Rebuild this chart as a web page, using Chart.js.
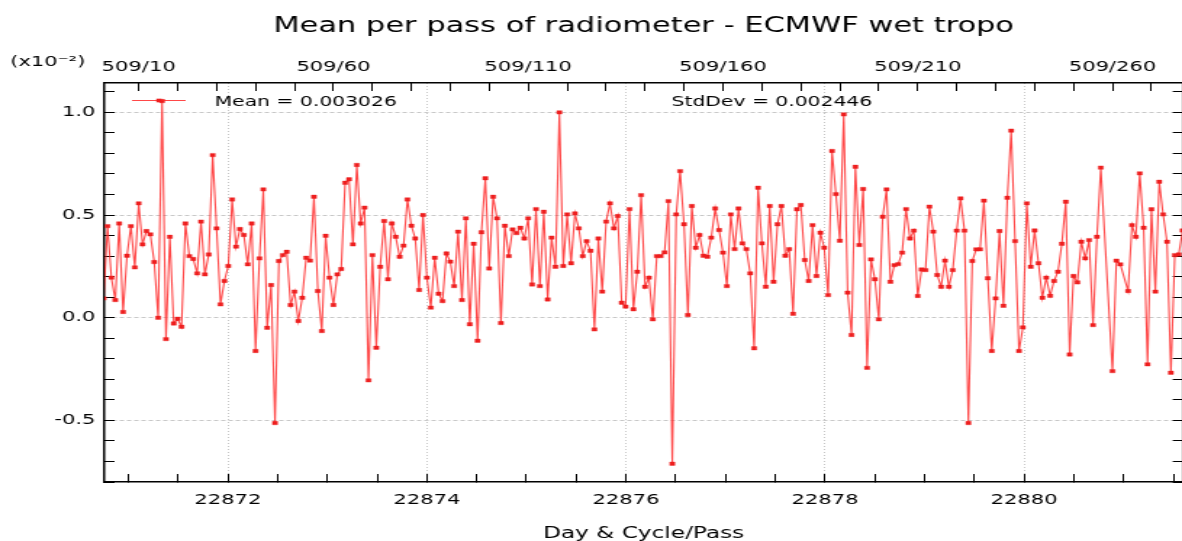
<!DOCTYPE html>
<html>
<head>
<meta charset="utf-8">
<script src="https://cdn.jsdelivr.net/npm/chart.js@4.4.0/dist/chart.umd.min.js"></script>
<style>
  html, body { margin: 0; padding: 0; background: #fff; overflow: hidden; }
  /* the original plot is a stretched picture, so draw narrow and stretch it */
  #wrap { position: absolute; left: 0; top: 0; width: 820px; height: 541px;
          transform-origin: 0 0; transform: scaleX(1.4503); }
</style>
</head>
<body>
<div id="wrap"><canvas id="myChart" width="820" height="541"></canvas></div>
<script>
// Cycle shown on the top axis, and the passes that have no value
let cycle = 509;
let missingPasses = [258, 259, 263];
let passes = [];
for (let p = 1; p <= 278; p++) {
  if (!missingPasses.includes(p)) passes.push(p);
}
// Mean per pass (x10^-2), one per pass above
let meanValues = [
  0.094, 0.446, 0.195, 0.086, 0.459, 0.028, 0.302, 0.446, 0.245, 0.557, 0.357, 0.422, 0.406, 0.271, 0.0, 1.055, -0.104, 0.394, -0.028, -0.005, -0.044, 0.459, 0.300, 0.286, 0.216,
  0.468, 0.211, 0.308, 0.792, 0.435, 0.065, 0.179, 0.252, 0.576, 0.346, 0.432, 0.403, 0.260, 0.459, -0.162, 0.289, 0.625, -0.049, 0.159, -0.513, 0.276, 0.305, 0.321, 0.062, 0.127,
  -0.016, 0.097, 0.292, 0.278, 0.589, 0.130, -0.065, 0.399, 0.195, 0.062, 0.211, 0.237, 0.657, 0.674, 0.357, 0.744, 0.459, 0.536, -0.305, 0.305, -0.146, 0.248, 0.471, 0.187, 0.459,
  0.394, 0.297, 0.351, 0.576, 0.448, 0.386, 0.135, 0.500, 0.195, 0.049, 0.292, 0.117, 0.081, 0.313, 0.273, 0.154, 0.419, 0.086, 0.484, -0.032, 0.360, -0.112, 0.416, 0.679, 0.240,
  0.589, 0.484, -0.026, 0.448, 0.300, 0.430, 0.412, 0.438, 0.386, 0.484, 0.162, 0.529, 0.154, 0.516, 0.089, 0.390, 0.248, 1.000, 0.252, 0.503, 0.265, 0.508, 0.435, 0.300, 0.373,
  0.326, -0.057, 0.386, 0.127, 0.468, 0.557, 0.435, 0.495, 0.073, 0.054, 0.529, 0.041, 0.224, 0.597, 0.151, 0.195, -0.008, 0.300, 0.300, 0.318, 0.568, -0.711, 0.503, 0.714, 0.455,
  0.013, 0.544, 0.341, 0.403, 0.302, 0.297, 0.390, 0.532, 0.427, 0.317, 0.154, 0.503, 0.334, 0.532, 0.362, 0.334, 0.216, -0.149, 0.633, 0.362, 0.151, 0.544, 0.175, 0.455, 0.544,
  0.302, 0.334, 0.019, 0.528, 0.549, 0.281, 0.179, 0.451, 0.203, 0.414, 0.341, 0.110, 0.812, 0.602, 0.375, 0.990, 0.122, -0.084, 0.735, 0.354, 0.627, -0.244, 0.284, 0.187, -0.008,
  0.492, 0.625, 0.175, 0.256, 0.261, 0.317, 0.529, 0.386, 0.424, 0.106, 0.235, 0.232, 0.541, 0.419, 0.208, 0.151, 0.278, 0.151, 0.232, 0.424, 0.581, 0.424, -0.513, 0.276, 0.333,
  0.333, 0.570, 0.192, -0.162, 0.094, 0.422, 0.058, 0.584, 0.911, 0.373, -0.162, -0.047, 0.557, 0.248, 0.425, 0.265, 0.097, 0.195, 0.107, 0.179, 0.224, 0.360, 0.565, -0.179, 0.203,
  0.172, 0.370, 0.289, 0.378, -0.036, 0.394, 0.731, -0.260, 0.278, 0.260, 0.130, 0.451, 0.394, 0.703, 0.438, -0.227, 0.528, 0.127, 0.662, 0.503, 0.370, -0.268, 0.305, 0.308, 0.425
];
// Labelled ticks
let dayTicks = [22872, 22874, 22876, 22878, 22880];
let passTicks = [10, 60, 110, 160, 210, 260];
let yTicks = [-0.5, 0.0, 0.5, 1.0];
let meanText = 'Mean = 0.003026';
let stdText = 'StdDev = 0.002446';

// Minor tick positions
let dayMinor = [];
for (let i = 0; i <= 21; i++) dayMinor.push(22871 + i * 0.5);
let passMinor = [];
for (let p = 10; p <= 270; p += 10) passMinor.push(p);
let yMinor = [];
for (let i = -8; i <= 11; i++) yMinor.push(i / 10);

let lineColor = 'rgba(255,40,40,0.85)';
let pointColor = '#ee1f1f';
let gridColor = '#c8c8c8';

Chart.defaults.font.family = '"DejaVu Sans", sans-serif';
Chart.defaults.color = '#000';

let overlayText = {
  id: 'overlayText',
  afterDatasetsDraw(chart) {
    let ctx = chart.ctx;
    ctx.save();
    let ly = 100.5;
    ctx.strokeStyle = lineColor;
    ctx.lineWidth = 1.1;
    ctx.beginPath();
    ctx.moveTo(91, ly);
    ctx.lineTo(128, ly);
    ctx.stroke();
    ctx.fillStyle = pointColor;
    ctx.fillRect(107.8, ly - 1.8, 3.6, 3.6);
    ctx.fillStyle = '#000';
    ctx.font = '14px "DejaVu Sans"';
    ctx.textAlign = 'left';
    ctx.textBaseline = 'alphabetic';
    ctx.fillText(meanText, 148, 105.5);
    ctx.fillText(stdText, 463, 105.5);
    ctx.font = '14.5px "DejaVu Sans"';
    ctx.fillText('(x10\u207B\u00B2)', 7, 66);
    ctx.restore();
  }
};

function renderChart() {
  let ctx = document.getElementById('myChart');
  new Chart(ctx, {
    type: 'line',
    data: {
      datasets: [{
        data: passes.map((p, i) => ({ x: p, y: meanValues[i] })),
        xAxisID: 'x2',
        yAxisID: 'y',
        borderColor: lineColor,
        borderWidth: 1.1,
        pointStyle: 'rect',
        pointRadius: 2.4,
        pointBorderWidth: 0.4,
        pointBorderColor: pointColor,
        pointBackgroundColor: pointColor,
        tension: 0,
        fill: false
      }]
    },
    options: {
      responsive: false,
      animation: false,
      devicePixelRatio: 1,
      layout: { padding: { left: 0, right: 3.5, top: 0, bottom: 0 } },
      plugins: {
        legend: { display: false },
        tooltip: { enabled: false },
        title: {
          display: true,
          text: 'Mean per pass of radiometer - ECMWF wet tropo',
          fullSize: false,
          color: '#000',
          font: { size: 21, weight: 'normal' },
          padding: { top: 14, bottom: 0 }
        }
      },
      scales: {
        x: {
          type: 'linear',
          position: 'bottom',
          min: 22870.7599,
          max: 22881.5953,
          afterBuildTicks: axis => { axis.ticks = dayMinor.map(v => ({ value: v })); },
          afterFit: axis => { axis.height = 59; axis.paddingLeft = 0; axis.paddingRight = 0; },
          ticks: {
            autoSkip: false, maxRotation: 0, minRotation: 0, padding: 17.4,
            font: { size: 14.5 },
            callback: v => dayTicks.includes(v) ? String(v) : ''
          },
          grid: {
            color: c => c.tick && dayTicks.includes(c.tick.value) ? gridColor : 'rgba(0,0,0,0)',
            tickColor: '#000', tickLength: -8, tickWidth: 1
          },
          border: { color: '#000', width: 1.5, dash: [1, 2] },
          title: {
            display: true, text: 'Day & Cycle/Pass', color: '#000',
            font: { size: 16 }, padding: { top: 0, bottom: -2 }
          }
        },
        x2: {
          type: 'linear',
          position: 'top',
          min: 1.21,
          max: 278.07,
          afterBuildTicks: axis => { axis.ticks = passMinor.map(v => ({ value: v })); },
          afterFit: axis => { axis.height = 43.8; axis.paddingLeft = 0; axis.paddingRight = 0; },
          ticks: {
            autoSkip: false, maxRotation: 0, minRotation: 0, padding: 15,
            font: { size: 14.5 },
            callback: v => passTicks.includes(v) ? cycle + '/' + v : ''
          },
          grid: {
            drawOnChartArea: false, color: 'rgba(0,0,0,0)',
            tickColor: '#000', tickLength: -8, tickWidth: 1
          },
          border: { color: '#000', width: 1.5 }
        },
        y: {
          position: 'left',
          min: -0.80,
          max: 1.143,
          afterBuildTicks: axis => { axis.ticks = yMinor.map(v => ({ value: v })); },
          afterFit: axis => { axis.width = 72; axis.paddingTop = 0; axis.paddingBottom = 0; },
          ticks: {
            autoSkip: false, padding: 13.2,
            font: { size: 14.5 },
            callback: v => yTicks.includes(v) ? v.toFixed(1) : ''
          },
          grid: {
            color: c => c.tick && yTicks.includes(c.tick.value) ? gridColor : 'rgba(0,0,0,0)',
            tickColor: '#000', tickLength: -7, tickWidth: 1
          },
          border: { color: '#000', width: 1.5, dash: [3, 2] }
        },
        y2: {
          position: 'right',
          min: -0.80,
          max: 1.143,
          afterBuildTicks: axis => { axis.ticks = yMinor.map(v => ({ value: v })); },
          afterFit: axis => { axis.width = 0; axis.paddingTop = 0; axis.paddingBottom = 0; },
          ticks: { display: false },
          grid: {
            drawOnChartArea: false, color: 'rgba(0,0,0,0)',
            tickColor: '#000', tickLength: -7, tickWidth: 1
          },
          border: { color: '#000', width: 1.5 }
        }
      }
    },
    plugins: [overlayText]
  });
}

renderChart();
</script>
</body>
</html>
